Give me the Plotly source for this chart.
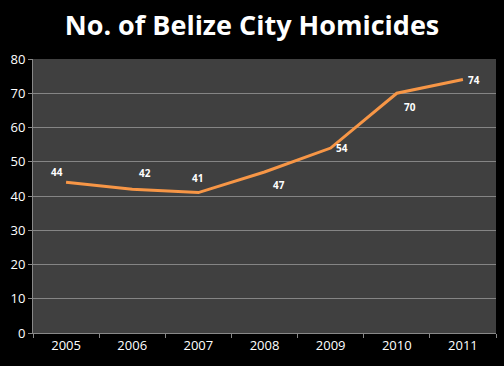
import plotly.graph_objects as go

years = ["2005", "2006", "2007", "2008", "2009", "2010", "2011"]
homicides = [44, 42, 41, 47, 54, 70, 74]

# label offsets (style only), in pixels
label_dx = [-9, 13, -1, 14, 11, 13, 11]
label_dy = [10, 16, 15, -13, 0, -14, 0]

fig = go.Figure()
fig.add_trace(go.Scatter(
    x=years, y=homicides, mode="lines",
    line=dict(color="#F79646", width=3),
    hoverinfo="skip",
))
annotations = []
for i, (y, dx, dy) in enumerate(zip(homicides, label_dx, label_dy)):
    # category axis: annotation x given as category index
    annotations.append(dict(x=i, y=y, xref="x", yref="y", text="<b>" + str(y) + "</b>",
                            showarrow=False, xshift=dx, yshift=dy,
                            font=dict(family="Open Sans", size=10, color="#ffffff")))

fig.update_layout(
    width=504, height=366,
    paper_bgcolor="black", plot_bgcolor="#404040",
    margin=dict(l=33, r=8, t=59, b=33),
    showlegend=False,
    annotations=annotations,
    title=dict(text="<b>No. of Belize City Homicides</b>", x=0.5, xanchor="center",
               y=0.93, yanchor="middle",
               font=dict(family="Open Sans", size=27, color="white")),
    font=dict(family="Open Sans", color="white", size=13),
)
fig.update_xaxes(type="category", tickson="boundaries", ticks="outside", ticklen=4,
                 tickcolor="#888888", showline=True, linecolor="#888888", linewidth=1,
                 showgrid=False, tickfont=dict(size=13, color="white"), range=[-0.5, 6.5])
fig.update_yaxes(range=[0, 80], dtick=10, ticks="outside", ticklen=4, tickcolor="#888888",
                 showline=True, linecolor="#888888", gridcolor="#858585", gridwidth=1,
                 zeroline=False, tickfont=dict(size=13, color="white"))

fig.write_html("out.html", config={"displayModeBar": False},
               post_script="document.body.style.margin='0';document.body.style.background='black';")
